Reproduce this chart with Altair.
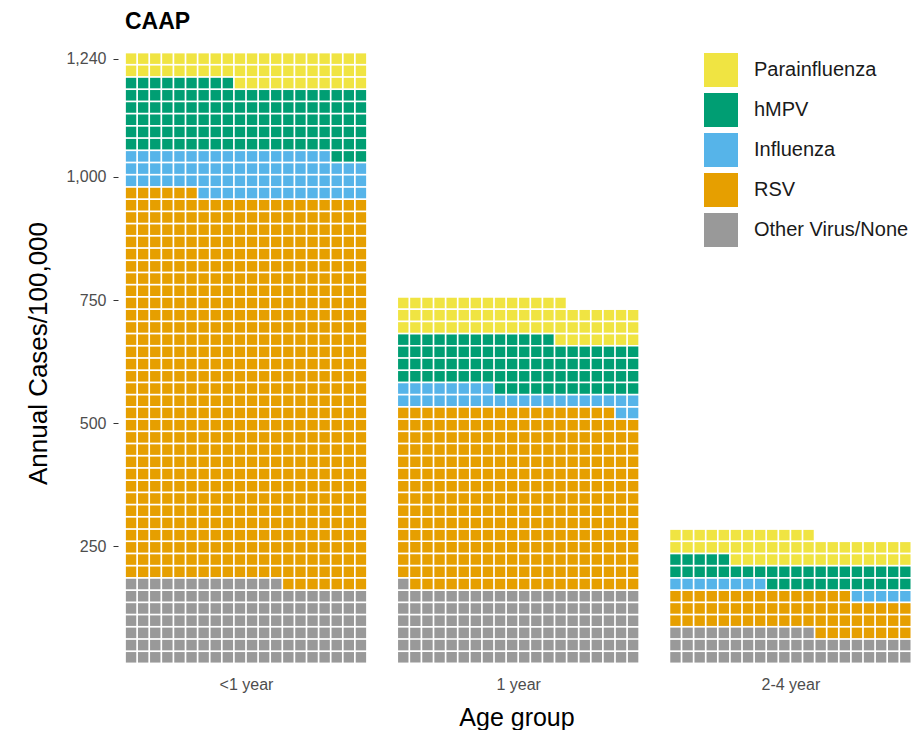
import altair as alt
import pandas as pd

# Waffle chart: each tile = 1.24 annual cases/100,000 ; 20 tiles per row
age_groups = ["<1 year", "1 year", "2-4 year"]
categories = ["Other Virus/None", "RSV", "Influenza", "hMPV", "Parainfluenza"]  # fill order (bottom up)
legend_order = ["Parainfluenza", "hMPV", "Influenza", "RSV", "Other Virus/None"]
colors = ["#F0E442", "#009E73", "#56B4E9", "#E69F00", "#999999"]

# tile counts per category (same order as `categories`)
tiles_lt1 = [133, 633, 71, 112, 51]
tiles_1 = [121, 297, 30, 85, 61]
tiles_2to4 = [52, 63, 13, 37, 47]

cases_per_tile = 1.24
tiles_per_row = 20
group_spacing = 22.5
y_ticks = [250, 500, 750, 1000, 1240]

rows = []
row_units = cases_per_tile * tiles_per_row
inset = 0.07
for g, (grp, counts) in enumerate(zip(age_groups, [tiles_lt1, tiles_1, tiles_2to4])):
    i = 0
    for cat, n in zip(categories, counts):
        for _ in range(n):
            r, c = divmod(i, tiles_per_row)
            x0 = g * group_spacing + c
            rows.append({
                "group": grp,
                "category": cat,
                "x": x0 + inset,
                "x2": x0 + 1 - inset,
                "y": (r + 0.5 + inset) * row_units,
                "y2": (r + 1.5 - inset) * row_units,
            })
            i += 1
df = pd.DataFrame(rows)

FONT = "Liberation Sans"
label_expr = ("datum.value < 20 ? '<1 year' : datum.value < 40 ? '1 year' : '2-4 year'")

chart = alt.Chart(df).mark_rect().encode(
    x=alt.X("x:Q",
            scale=alt.Scale(domain=[-0.58, 65.3], nice=False, zero=False),
            axis=alt.Axis(title="Age group", values=[10, 32.5, 55], labelExpr=label_expr,
                          grid=False, domain=False, ticks=False, tickSize=0,
                          labelFontSize=16, labelColor="#4d4d4d", labelPadding=4,
                          labelFont=FONT, titleFont=FONT, titleFontSize=25,
                          titleFontWeight="normal", titleColor="#000000", titlePadding=13)),
    x2="x2:Q",
    y=alt.Y("y:Q",
            scale=alt.Scale(domain=[-5, 1290], nice=False, zero=False),
            axis=alt.Axis(title="Annual Cases/100,000", values=y_ticks, format=",d",
                          grid=False, domain=False, ticks=True, tickSize=5, tickColor="#333333",
                          labelFontSize=16, labelColor="#4d4d4d", labelPadding=7,
                          labelFont=FONT, titleFont=FONT, titleFontSize=26,
                          titleFontWeight="normal", titleColor="#000000", titlePadding=14)),
    y2="y2:Q",
    color=alt.Color("category:N",
                    scale=alt.Scale(domain=legend_order, range=colors),
                    legend=alt.Legend(title=None, orient="none", legendX=586, legendY=19,
                                      symbolType="square", symbolSize=1156, symbolStrokeWidth=0,
                                      symbolOpacity=1, rowPadding=6, labelOffset=16,
                                      labelFontSize=20, labelFont=FONT, labelColor="#1a1a1a",
                                      padding=0)),
).properties(
    width=797,
    height=638,
    title=alt.TitleParams("CAAP", anchor="start", frame="group", fontSize=23, font=FONT,
                          fontWeight="bold", offset=0, dx=7, color="#000000"),
    padding={"left": 17, "top": 3, "right": 0, "bottom": 0},
).configure_view(stroke=None)

chart.save("out.html", embed_options={"renderer": "svg", "actions": False})
